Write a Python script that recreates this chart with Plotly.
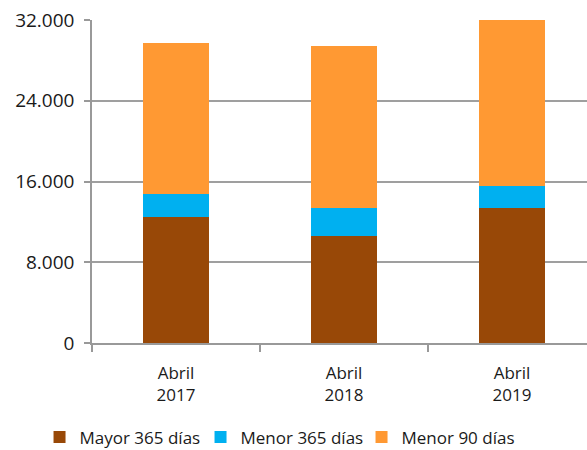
import plotly.graph_objects as go

# Data.
periodos = ['Abril<br>2017', 'Abril<br>2018', 'Abril<br>2019']
mayor_365 = [12500, 10600, 13350]
menor_365 = [2300, 2750, 2250]
menor_90 = [14900, 16050, 16400]

series = [('Mayor 365 días', mayor_365, '#984807'),
          ('Menor 365 días', menor_365, '#00B0F0'),
          ('Menor 90 días', menor_90, '#FF9933')]

FONT = 'Open Sans'

fig = go.Figure()
for name, vals, color in series:
    fig.add_trace(go.Bar(x=periodos, y=vals, name=name,
                         marker=dict(color=color, line=dict(width=0)),
                         width=0.393))

fig.update_layout(barmode='stack',
                  width=587, height=450,
                  margin=dict(l=92, r=0, t=20, b=107, autoexpand=False),
                  plot_bgcolor='white', paper_bgcolor='white',
                  separators=',.',
                  font=dict(family=FONT, color='#1a1a1a'),
                  legend=dict(orientation='h',
                              x=-0.106, xanchor='left',
                              y=-0.237, yanchor='top',
                              font=dict(size=17, family=FONT),
                              entrywidth=116,
                              traceorder='normal'))

fig.update_xaxes(range=[-0.5, 2.446], automargin=False,
                 showline=True, linecolor='#999999', linewidth=1.5,
                 ticks='outside', tickson='boundaries', ticklen=7,
                 tickcolor='#999999', tickwidth=1.5,
                 ticklabelstandoff=14,
                 tickfont=dict(size=17, family=FONT))
fig.update_yaxes(range=[0, 32000], automargin=False,
                 tickvals=[0, 8000, 16000, 24000, 32000],
                 tickformat=',d',
                 showline=True, linecolor='#999999', linewidth=1.5,
                 showgrid=True, gridcolor='#9f9f9f', gridwidth=1.5,
                 zeroline=False,
                 ticks='outside', ticklen=6, tickcolor='#999999',
                 tickwidth=1.5, ticklabelstandoff=6,
                 tickfont=dict(size=19, family=FONT))

# page has a default 8px body margin; drop it so the figure sits at 0,0
fig.write_html('out.html', config={'displayModeBar': False},
               post_script="document.body.style.margin='0';")
